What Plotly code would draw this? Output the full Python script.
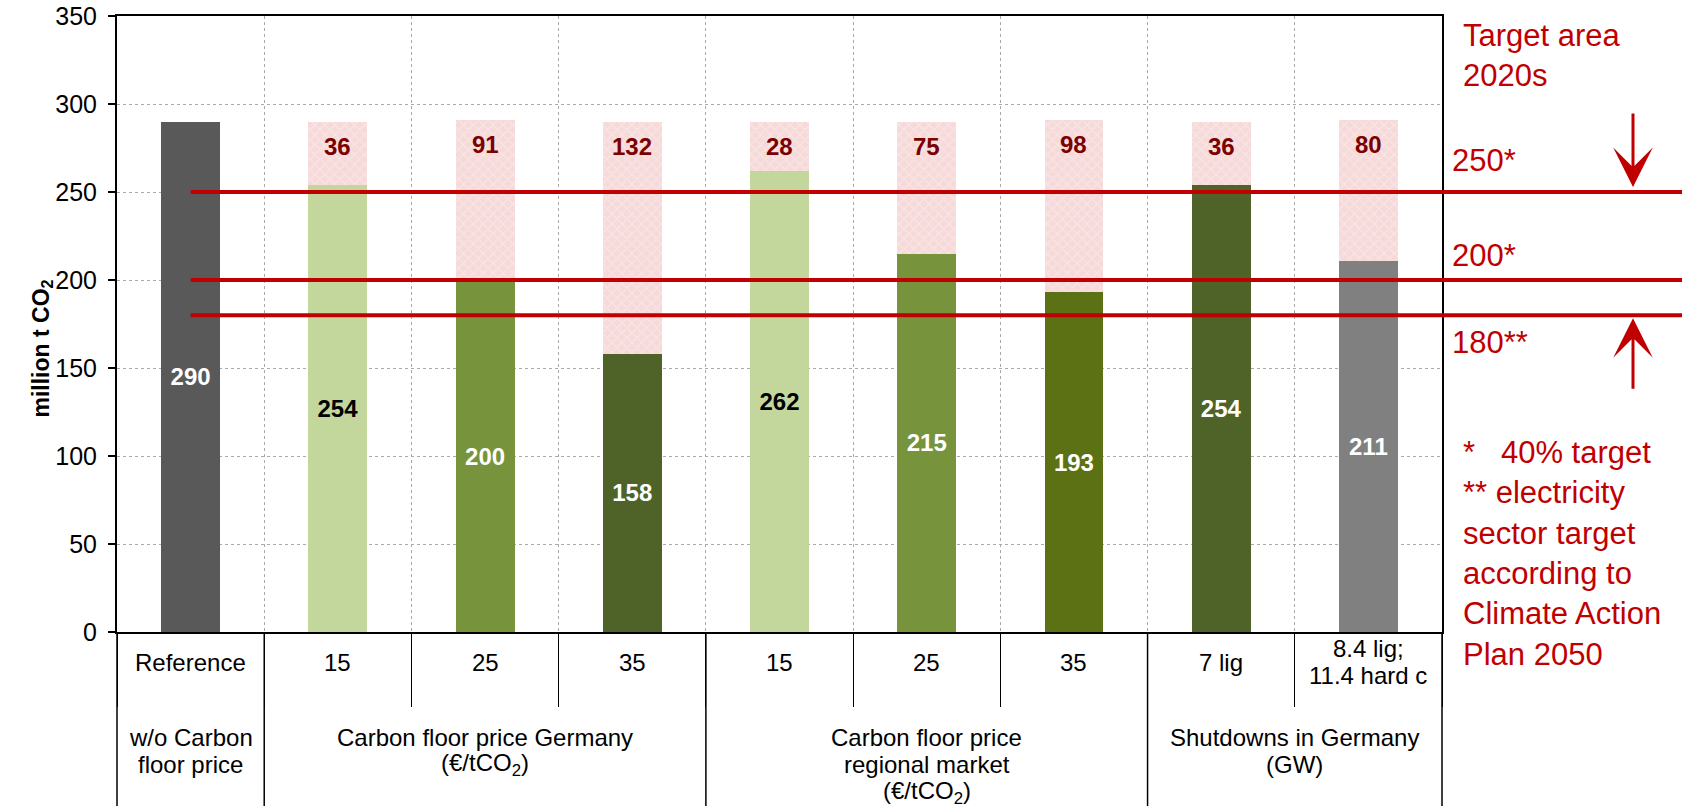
import plotly.graph_objects as go

# ---------------- data ----------------
category_ids = ["ref", "de15", "de25", "de35", "rm15", "rm25", "rm35", "sd7", "sd84"]
tick_labels = ["Reference", "15", "25", "35", "15", "25", "35", "7 lig", "8.4 lig;<br>11.4 hard c"]
emissions = [290, 254, 200, 158, 262, 215, 193, 254, 211]
gap_to_reference = [None, 36, 91, 132, 28, 75, 98, 36, 80]
bar_colors = ["#595959", "#C3D69B", "#77933C", "#4F6228", "#C3D69B", "#77933C", "#5B7113", "#4F6228", "#808080"]
label_colors = ["white", "black", "white", "white", "black", "white", "white", "white", "white"]

group_labels = [
    "w/o Carbon<br>floor price",
    "Carbon floor price Germany<br>(€/tCO<sub>2</sub>)",
    "Carbon floor price<br>regional market<br>(€/tCO<sub>2</sub>)",
    "Shutdowns in Germany<br>(GW)",
]
group_first = [0, 1, 4, 7]
group_last = [0, 3, 6, 8]

target_values = [250, 200, 180]
target_labels = ["250*", "200*", "180**"]
target_label_y = [268, 214, 164.5]

FONT = "Liberation Sans, Arial, sans-serif"
RED = "#C00000"
n = len(category_ids)

# layout geometry (pixels)
W, H = 1682, 806
M_L, M_R, M_T, M_B = 117, 240, 16, 174
PLOT_H = H - M_T - M_B
AXIS_Y = H - M_B


def py(px):
    """pixel row -> paper y"""
    return (AXIS_Y - px) / PLOT_H


def px_x(px):
    return (px - M_L) / (W - M_L - M_R)


fig = go.Figure()

fig.add_trace(go.Bar(
    x=category_ids, y=emissions, width=0.4,
    marker=dict(color=bar_colors, line=dict(width=0)),
    text=[str(v) for v in emissions],
    textposition="inside", insidetextanchor="middle", textangle=0,
    textfont=dict(family=FONT, size=24, color=label_colors, weight="bold"),
    constraintext="none",
    showlegend=False,
))

fig.add_trace(go.Bar(
    x=category_ids, y=gap_to_reference, width=0.4,
    marker=dict(color="#f4d6d6", line=dict(width=0),
                pattern=dict(shape="x", bgcolor="#f6d9d9", fgcolor="#fcf0f0",
                             size=7, solidity=0.35)),
    showlegend=False,
))

annotations = []
# gap labels near the top of the hatched segments
for i, g in enumerate(gap_to_reference):
    if g is None:
        continue
    annotations.append(dict(
        x=i, y=emissions[i] + g, xref="x", yref="y", yanchor="top", yshift=-9,
        text=f"<b>{g}</b>", showarrow=False,
        font=dict(family=FONT, size=24, color="#7B0000"),
    ))


def add_lines(x, center_px, label, spacing=27.5):
    lines = label.split("<br>")
    m = len(lines)
    for k, ln in enumerate(lines):
        c = center_px + (k - (m - 1) / 2) * spacing
        annotations.append(dict(
            x=x, y=py(c), xref="x", yref="paper", yanchor="middle",
            text=ln, showarrow=False,
            font=dict(family=FONT, size=24, color="black"),
        ))


# first row of category labels
for i, lab in enumerate(tick_labels):
    add_lines(i, 662, lab)

# group labels
for lab, a, b in zip(group_labels, group_first, group_last):
    m = len(lab.split("<br>"))
    add_lines((a + b) / 2, 737 + (m - 1) / 2 * 27.5, lab)

# y-axis title
annotations.append(dict(
    x=px_x(25), y=py(349), xref="paper", yref="paper", textangle=-90,
    text="<b>million t CO<sub>2</sub></b>", showarrow=False,
    font=dict(family=FONT, size=23, color="black"),
))

# right side texts
annotations.append(dict(
    x=px_x(1461), y=py(55), xref="paper", yref="paper", xanchor="left", yanchor="middle",
    text="Target area<br>2020s", align="left", showarrow=False,
    font=dict(family=FONT, size=31, color=RED),
))
for lab, ly in zip(target_labels, target_label_y):
    annotations.append(dict(
        x=px_x(1450), y=ly, xref="paper", yref="y", xanchor="left", yanchor="middle",
        text=lab, showarrow=False,
        font=dict(family=FONT, size=31, color=RED),
    ))
annotations.append(dict(
    x=px_x(1461), y=py(553), xref="paper", yref="paper", xanchor="left", yanchor="middle",
    text="*\u00a0\u00a0 40% target<br>** electricity<br>sector target<br>according to<br>Climate Action<br>Plan 2050",
    align="left", showarrow=False,
    font=dict(family=FONT, size=31, color=RED),
))
# arrows
annotations.append(dict(
    x=px_x(1633), y=target_values[0], xref="paper", yref="y", ax=0, ay=-80,
    text="", showarrow=True, arrowhead=3, arrowsize=2.2, arrowwidth=3,
    arrowcolor=RED, standoff=5,
))
annotations.append(dict(
    x=px_x(1633), y=target_values[2], xref="paper", yref="y", ax=0, ay=75,
    text="", showarrow=True, arrowhead=3, arrowsize=2.2, arrowwidth=3,
    arrowcolor=RED, standoff=3,
))

shapes = []
# target lines
for t in target_values:
    shapes.append(dict(
        type="line", xref="paper", yref="y", x0=0.5 / n, x1=1.2, y0=t, y1=t,
        line=dict(color=RED, width=4),
    ))
# group separators below the axis
for b in [0] + [g + 1 for g in group_last]:
    shapes.append(dict(
        type="line", xref="paper", yref="paper", x0=b / n, x1=b / n, y0=0, y1=-0.3,
        line=dict(color="black", width=1.5),
    ))

fig.update_layout(
    width=W, height=H,
    margin=dict(l=M_L, r=M_R, t=M_T, b=M_B, autoexpand=False),
    paper_bgcolor="white", plot_bgcolor="white",
    barmode="stack", bargap=0.6,
    font=dict(family=FONT, color="black"),
    annotations=annotations, shapes=shapes,
    showlegend=False,
    xaxis=dict(
        type="category", categoryorder="array", categoryarray=category_ids,
        range=[-0.5, n - 0.5], automargin=False,
        showticklabels=False, tickson="boundaries",
        ticks="outside", ticklen=73, tickcolor="black", tickwidth=1,
        showgrid=True, gridcolor="#aaaaaa", griddash="dot", gridwidth=1,
        showline=True, linecolor="black", linewidth=2, mirror=True,
    ),
    yaxis=dict(
        range=[0, 350], dtick=50, tick0=0, automargin=False,
        ticks="outside", ticklen=7, tickcolor="black", tickwidth=1.5,
        tickfont=dict(family=FONT, size=25, color="black"),
        ticklabelstandoff=6,
        showgrid=True, gridcolor="#aaaaaa", griddash="dot", gridwidth=1,
        showline=True, linecolor="black", linewidth=2, mirror=True,
        zeroline=False,
    ),
)

fig.write_html("out.html")
